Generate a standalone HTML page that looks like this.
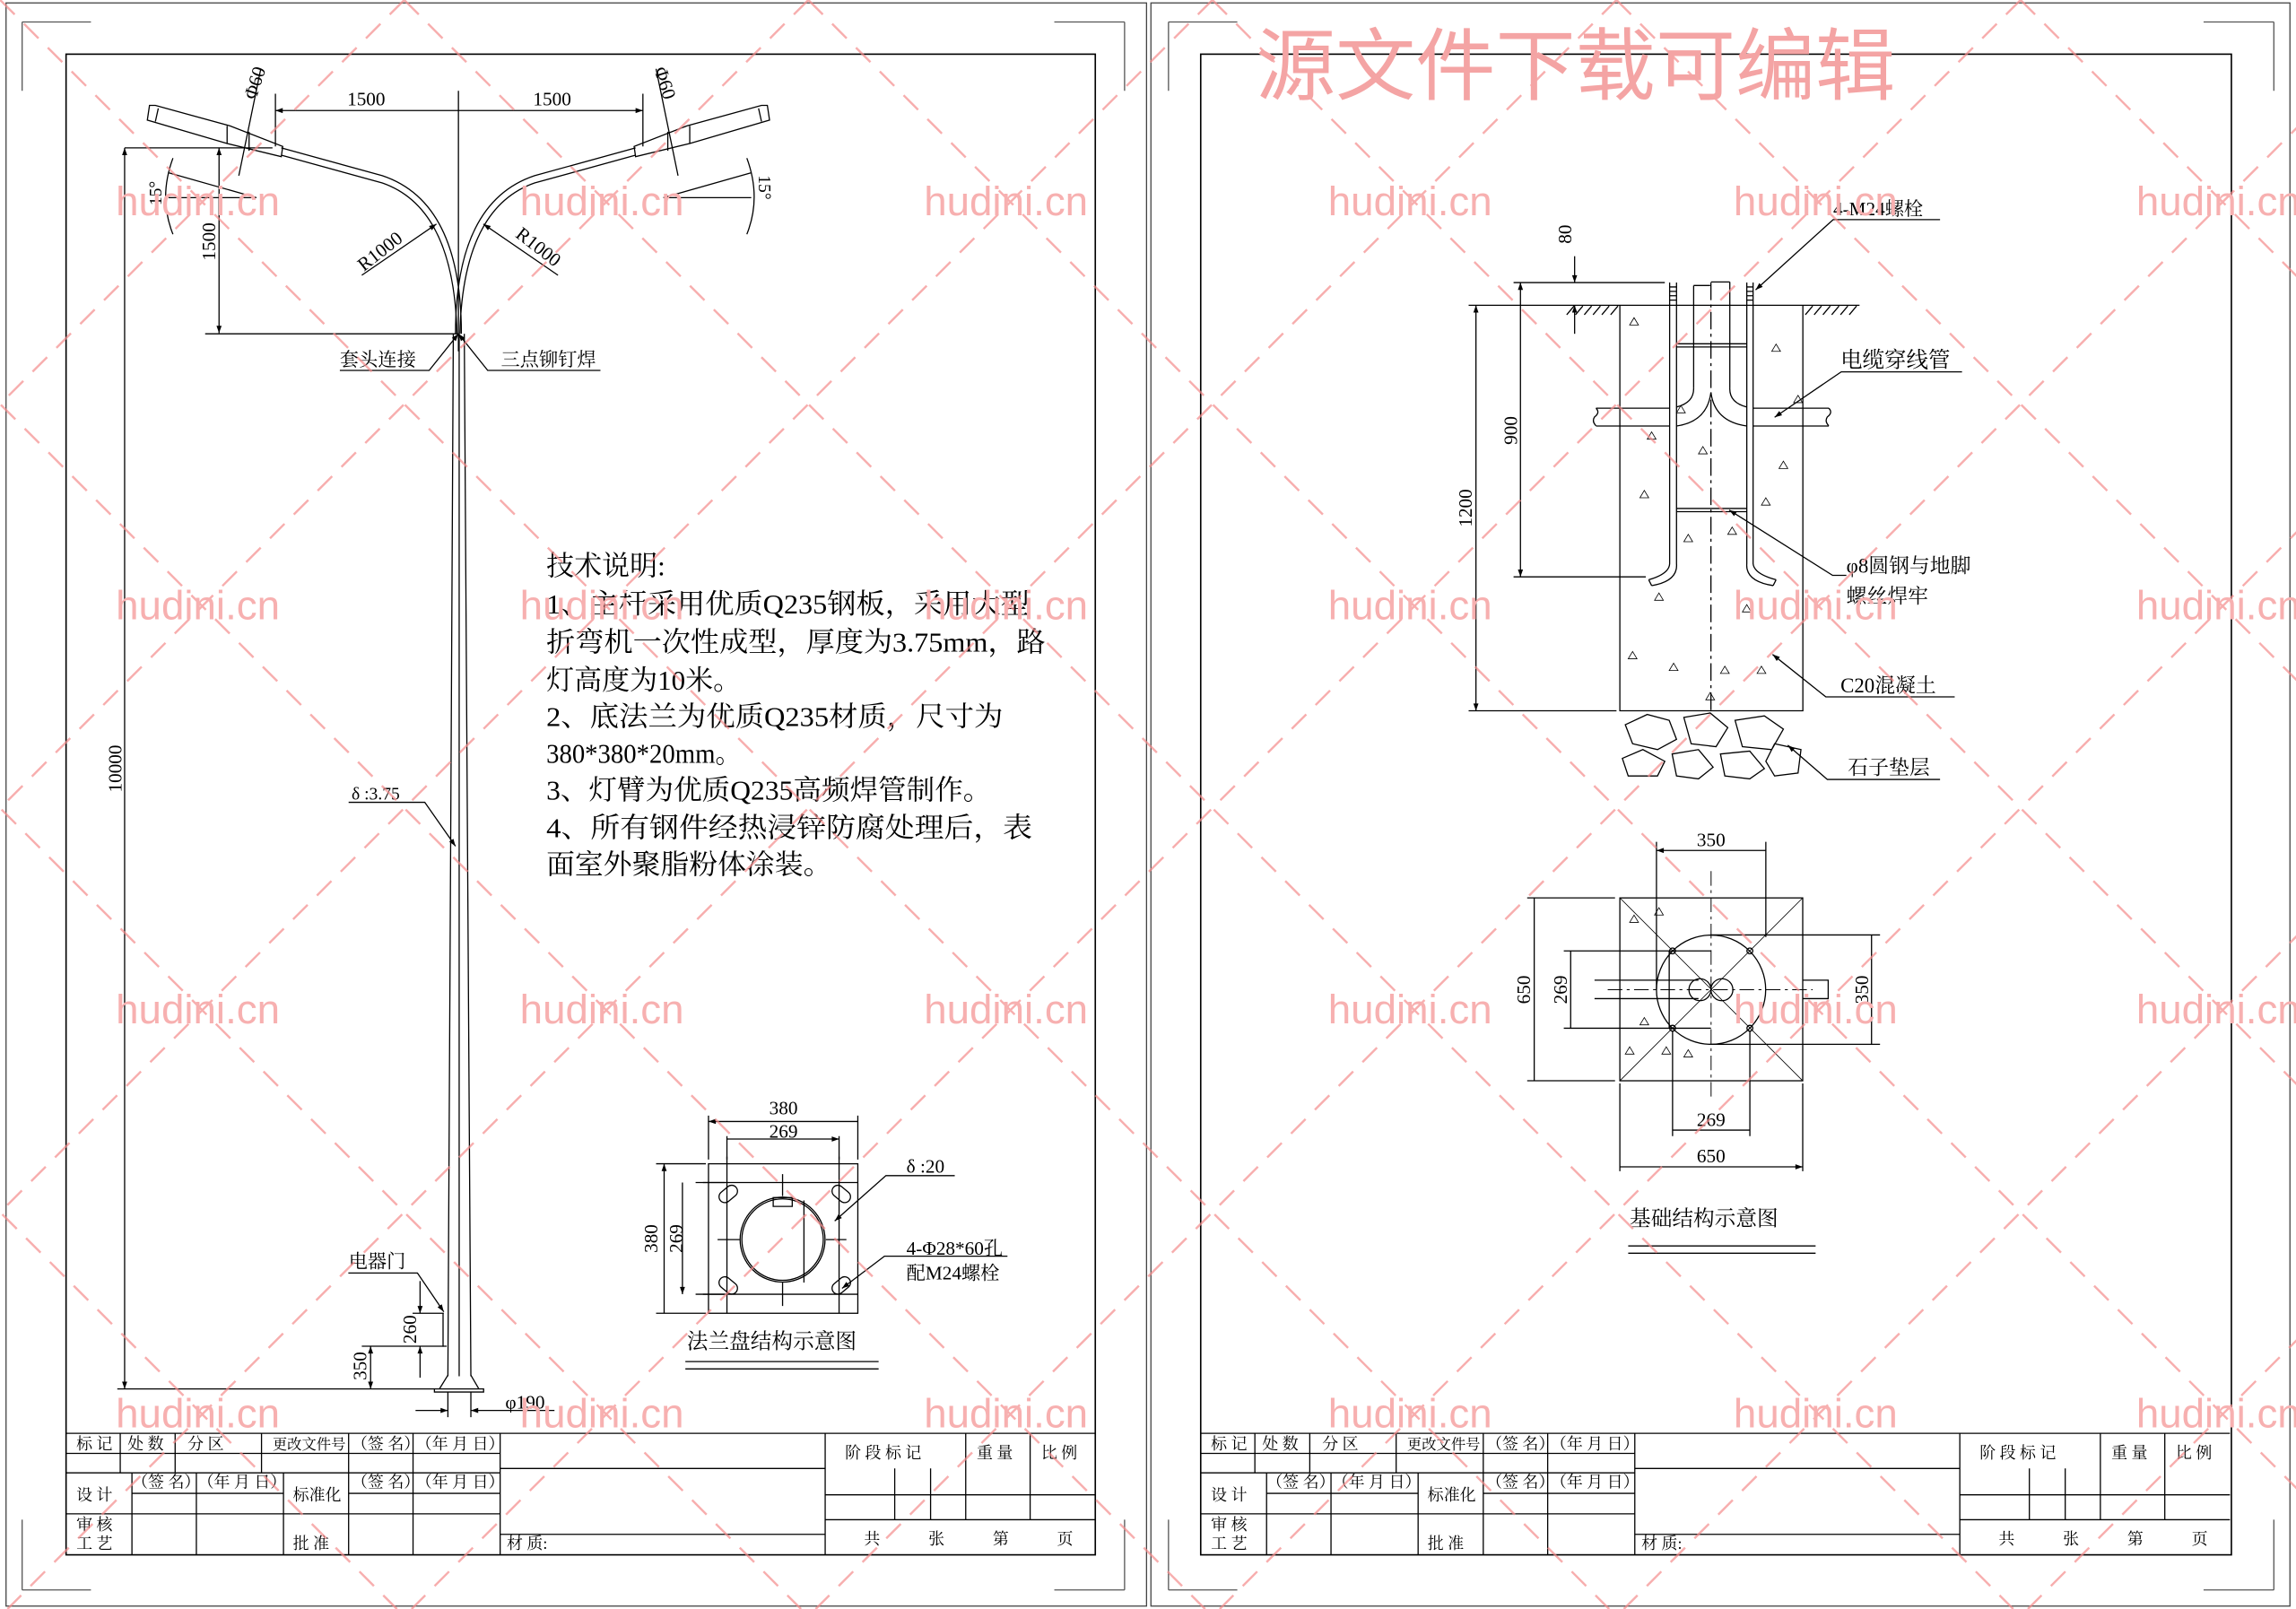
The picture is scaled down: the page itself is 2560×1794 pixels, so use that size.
<!DOCTYPE html>
<html><head><meta charset="utf-8"><style>
html,body{margin:0;padding:0;background:#fff;}
svg{display:block;}
text{font-family:"Liberation Serif","Noto Serif CJK SC","Noto Sans CJK SC",serif;fill:#000;}
.t{font-size:11px;}
.wm text{font-family:"Liberation Sans",sans-serif;font-size:28px;fill:#f7b0b0;}
</style></head><body>
<svg width="2560" height="1794" viewBox="0 0 1568 1099" xmlns="http://www.w3.org/2000/svg">
<defs>
<marker id="a" viewBox="0 0 10 10" refX="10" refY="5" markerWidth="7" markerHeight="5" orient="auto-start-reverse" markerUnits="userSpaceOnUse"><path d="M0,1.5 L10,5 L0,8.5z" fill="#000"/></marker>
</defs>
<rect width="1568" height="1099" fill="#fff"/>
<g fill="none" stroke="#000" stroke-width="0.8">
<rect x="4" y="2" width="779" height="1095" stroke="#444"/>
<rect x="786" y="2" width="778" height="1095" stroke="#444"/>
<path d="M15,15 H62 M15,15 V62 M768,15 H720 M768,15 V62 M15,1086 V1038 M15,1086 H62 M768,1086 V1038 M768,1086 H720" stroke="#555"/>
<path d="M798,15 H845 M798,15 V62 M1553,15 H1505 M1553,15 V62 M798,1086 V1038 M798,1086 H845 M1553,1086 V1038 M1553,1086 H1505" stroke="#555"/>
<rect x="45" y="37" width="703" height="1025" stroke-width="1"/>
<rect x="820" y="37" width="704" height="1025" stroke-width="1"/>
</g>

<g id="tb" fill="none" stroke="#000" stroke-width="0.8">
<path d="M45,979 H748 M45,992.7 H341.5 M341.5,1003 H563.5 M45,1006 H341.5 M90,1020 H193.5 M238,1020 H341.5 M563.5,1021 H748 M45,1034 H341.5 M563.5,1038 H748 M341.5,1048 H563.5"/>
<path d="M82,979 V1006 M119.5,979 V1006 M178.5,979 V1006 M238,979 V1062 M282,979 V1062 M341.5,979 V1062 M563.5,979 V1062 M90,1006 V1062 M134,1006 V1062 M193.5,1006 V1062 M659.5,979 V1038 M703.5,979 V1038 M611,1003 V1038 M635.5,1003 V1038"/>
</g>
<use href="#tb" x="775"/>
<g class="t" id="tbt">
<text x="52" y="990">标 记</text><text x="87" y="990">处 数</text><text x="128" y="990">分 区</text><text x="186" y="990" font-size="10">更改文件号</text><text x="240" y="990">（签 名）</text><text x="284" y="990">（年 月 日）</text>
<text x="52" y="1025">设 计</text><text x="90" y="1016">（签 名）</text><text x="135" y="1016">（年 月 日）</text><text x="200" y="1025">标准化</text><text x="240" y="1016">（签 名）</text><text x="284" y="1016">（年 月 日）</text>
<text x="52" y="1045">审 核</text><text x="52" y="1058">工 艺</text><text x="200" y="1058">批 准</text><text x="346" y="1058">材 质:</text>
<text x="577" y="996">阶 段 标 记</text><text x="667" y="996">重 量</text><text x="711" y="996">比 例</text>
<text x="590" y="1055">共　　　张　　　第　　　页</text>
</g>
<use href="#tbt" x="775"/>

<g fill="none" stroke="#000" stroke-width="0.8">
<path d="M309.5,228 L305.8,940 M317,228 L321.5,940 M313.5,228 V940"/>
<path d="M296.6,948.7 H330.2 V950.8 H296.6Z M305.8,939.3 L300,948.7 M321.5,939.3 L327,948.7"/>
<path d="M302.5,897 V919.5 H305"/>
<path d="M192,106 L261,125 Q310,142 312,228"/>
<path d="M192,101 L261,120 Q315,138 315,228"/>
<path d="M434,106 L365,125 Q316,142 314,228"/>
<path d="M434,101 L365,120 Q311,138 311,228"/>
<path d="M102,72 L100.5,82 L155,98 L192,107 L193,100 L157,86 L106,72Z M108,74 L106,83 M155,86 L155,98 M170,90 L170,103"/>
<path d="M524,72 L525.5,82 L471,98 L434,107 L433,100 L469,86 L520,72Z M518,74 L520,83 M471,86 L471,98 M456,90 L456,103"/>
<path d="M313,62 V240 M188,64 V100 M439,64 V100"/>
<path d="M188,75.5 H313 M313,75.5 H439" marker-start="url(#a)" marker-end="url(#a)"/>
<path d="M85,101 H186 M140,228 H313"/>
<path d="M149.5,101 V227.5" marker-start="url(#a)" marker-end="url(#a)"/>
<path d="M85,101 V948.7" marker-start="url(#a)" marker-end="url(#a)"/>
<path d="M80,948.7 H297"/>
<path d="M178,47 L163,120 M448,47 L463,120"/>
<path d="M115,135 H175 M115,118 L175,135 M118,108 Q108,135 118,160"/>
<path d="M453,135 H513 M513,118 L453,135 M510,108 Q520,135 510,160"/>
<path d="M247,188 L298,153" marker-end="url(#a)"/>
<path d="M381,188 L330,153" marker-end="url(#a)"/>
<path d="M232,253 H293 L313,228" marker-end="url(#a)"/>
<path d="M410,253 H333 L313,228" marker-end="url(#a)"/>
<path d="M238,548 H290 L311,578" marker-end="url(#a)"/>
<path d="M237.8,869.5 H285 L303,896" marker-end="url(#a)"/>
<path d="M281.7,897 H303 M247,919.5 H303"/>
<path d="M286.8,875 V897" marker-end="url(#a)"/><path d="M286.8,941 V919.5" marker-end="url(#a)"/>
<path d="M253,919.5 V948.7" marker-start="url(#a)" marker-end="url(#a)"/>
<path d="M305.8,951 V968 M321.5,951 V968"/>
<path d="M283.7,963.4 H305.8" marker-end="url(#a)"/><path d="M378.6,963.4 H321.5" marker-end="url(#a)"/>
</g>
<g font-size="13">
<text x="250" y="72" text-anchor="middle">1500</text><text x="377" y="72" text-anchor="middle">1500</text>
<text transform="translate(147,165) rotate(-90)" text-anchor="middle">1500</text>
<text transform="translate(83,525) rotate(-90)" text-anchor="middle">10000</text>
<text transform="translate(178,58) rotate(-72)" text-anchor="middle">Φ60</text>
<text transform="translate(450,58) rotate(72)" text-anchor="middle">Φ60</text>
<text transform="translate(110,132) rotate(-90)" text-anchor="middle" font-size="12">15°</text>
<text transform="translate(518,128) rotate(90)" text-anchor="middle" font-size="12">15°</text>
<text transform="translate(262,175) rotate(-38)" text-anchor="middle">R1000</text>
<text transform="translate(365,172) rotate(38)" text-anchor="middle">R1000</text>
<text x="232" y="250">套头连接</text><text x="342" y="250">三点铆钉焊</text>
<text x="240" y="546" font-size="12">δ :3.75</text>
<text x="238" y="866">电器门</text>
<text transform="translate(284,908) rotate(-90)" text-anchor="middle">260</text>
<text transform="translate(250,933) rotate(-90)" text-anchor="middle">350</text>
<text x="345" y="962">φ190</text>
</g>
<g font-size="19">
<text x="373" y="393">技术说明:</text>
<text x="373" y="419" textLength="330" lengthAdjust="spacingAndGlyphs">1、主杆采用优质Q235钢板，采用大型</text>
<text x="373" y="445" textLength="341" lengthAdjust="spacingAndGlyphs">折弯机一次性成型，厚度为3.75mm，路</text>
<text x="373" y="471" textLength="133" lengthAdjust="spacingAndGlyphs">灯高度为10米。</text>
<text x="373" y="496" textLength="312" lengthAdjust="spacingAndGlyphs">2、底法兰为优质Q235材质，尺寸为</text>
<text x="373" y="521" textLength="133" lengthAdjust="spacingAndGlyphs">380*380*20mm。</text>
<text x="373" y="546" textLength="304" lengthAdjust="spacingAndGlyphs">3、灯臂为优质Q235高频焊管制作。</text>
<text x="373" y="572" textLength="332" lengthAdjust="spacingAndGlyphs">4、所有钢件经热浸锌防腐处理后，表</text>
<text x="373" y="597" textLength="195" lengthAdjust="spacingAndGlyphs">面室外聚脂粉体涂装。</text>
</g>

<g fill="none" stroke="#000" stroke-width="0.8">
<rect x="483.8" y="794.9" width="102" height="102.1"/>
<path d="M496.4,790 V897 M573,790 V897 M480,807.7 H586 M480,884 H586"/>
<path d="M483.8,762 V792 M585.8,762 V792 M496.4,776 V792 M573,776 V792"/>
<path d="M483.8,766 H585.8 M496.4,778 H573" marker-start="url(#a)" marker-end="url(#a)"/>
<path d="M448,794.9 H482 M475,807.7 H495 M448,897 H482 M475,884 H495"/>
<path d="M453.5,794.9 V897 M466,807.7 V884" marker-start="url(#a)" marker-end="url(#a)"/>
<circle cx="534.4" cy="846.7" r="29"/><circle cx="534.4" cy="846.7" r="27.8"/>
<path d="M534.4,802 V817 M534.4,876 V892 M490,846.7 H505 M564,846.7 H578 M549,820 V876 M528,818 h13 v6 h-13z"/>
<g transform="translate(497.3,815.5) rotate(-40)"><rect x="-7" y="-4" width="14" height="8" rx="4"/></g>
<g transform="translate(574.5,815.5) rotate(40)"><rect x="-7" y="-4" width="14" height="8" rx="4"/></g>
<g transform="translate(497.3,878) rotate(40)"><rect x="-7" y="-4" width="14" height="8" rx="4"/></g>
<g transform="translate(574.5,878) rotate(-40)"><rect x="-7" y="-4" width="14" height="8" rx="4"/></g>
<path d="M652,803 H605 L570,834" marker-end="url(#a)"/>
<path d="M688,858 H604 L575,880" marker-end="url(#a)"/>
<path d="M468,930 H600 M468,935 H600"/>
</g>
<g font-size="13">
<text x="535" y="761" text-anchor="middle">380</text><text x="535" y="777" text-anchor="middle">269</text>
<text transform="translate(449,846) rotate(-90)" text-anchor="middle">380</text>
<text transform="translate(466,846) rotate(-90)" text-anchor="middle">269</text>
<text x="619" y="801">δ :20</text>
<text x="619" y="857">4-Φ28*60孔</text><text x="619" y="874">配M24螺栓</text>
<text x="469" y="921" font-size="14.5">法兰盘结构示意图</text>
</g>

<g fill="none" stroke="#000" stroke-width="0.8">
<path d="M1003,208.5 H1270"/>
<path d="M1070,215 l5,-6 M1076,215 l5,-6 M1082,215 l5,-6 M1088,215 l5,-6 M1094,215 l5,-6 M1100,215 l5,-6 M1233,215 l5,-6 M1239,215 l5,-6 M1245,215 l5,-6 M1251,215 l5,-6 M1257,215 l5,-6 M1263,215 l5,-6"/>
<path d="M1106.3,208.5 V485.5 H1231.3 V208.5"/>
<path d="M1003,485.5 H1104"/>
<path d="M1140.3,193 V385 Q1140,392 1126,396 M1145,193 V385 Q1146,397 1128,400 M1126,396 L1128,400"/>
<path d="M1197.3,193 V385 Q1198,392 1213,396 M1193,193 V385 Q1192,397 1211,400 M1213,396 L1211,400"/>
<path d="M1140.3,196 h4.7 M1140.3,199 h4.7 M1140.3,202 h4.7 M1140.3,205 h4.7 M1193,196 h4.3 M1193,199 h4.3 M1193,202 h4.3 M1193,205 h4.3"/>
<path d="M1145,234.8 H1193 M1145,237 H1193 M1145,347.3 H1193 M1145,349.5 H1193"/>
<path d="M1168.5,192.6 H1181.4 M1181.4,192.6 V265 M1156.7,195 H1168 M1156.7,195 V265"/>
<path d="M1168.5,193 V485" stroke-dasharray="12,3,2,3"/>
<path d="M1156.7,265 Q1157,275 1145,278 M1181.4,265 Q1181,275 1193,278 M1168.5,268 Q1166,288 1145,291 M1168.5,268 Q1171,288 1193,291"/>
<path d="M1090,278.8 H1140.3 M1090,291 H1140.3 M1197.3,278.8 H1249 M1197.3,291 H1249"/>
<path d="M1090,278.8 q3,3 -1,6 q-2,3 1,6 M1249,278.8 q3,3 -1,6 q-2,3 1,6"/>
<path d="M1110,495 L1125,488 L1140,492 L1145,505 L1132,512 L1115,508Z M1150,490 L1168,487 L1180,497 L1172,510 L1155,508Z M1185,492 L1205,489 L1218,498 L1210,512 L1190,510Z M1108,518 L1122,512 L1137,520 L1132,530 L1112,530Z M1142,515 L1160,512 L1170,524 L1160,532 L1145,530Z M1175,515 L1195,513 L1205,525 L1195,532 L1178,530Z M1212,508 L1230,512 L1228,528 L1212,530 L1206,520Z"/>
<path d="M1033.7,193 H1137 M1033.7,394 H1124"/>
<path d="M1038.4,193 V394" marker-start="url(#a)" marker-end="url(#a)"/>
<path d="M1008,208.5 V485.5" marker-start="url(#a)" marker-end="url(#a)"/>
<path d="M1075.4,175 V193" marker-end="url(#a)"/><path d="M1075.4,228 V208.5" marker-end="url(#a)"/>
<path d="M1325,150 H1252 L1199,198" marker-end="url(#a)"/>
<path d="M1340,254 H1257.5 L1212,285" marker-end="url(#a)"/>
<path d="M1261,393 H1251.6 L1181,348.4" marker-end="url(#a)"/>
<path d="M1335,476 H1247 L1210.6,447" marker-end="url(#a)"/>
<path d="M1325,532.4 H1248 L1221,509" marker-end="url(#a)"/>
</g>
<g fill="none" stroke="#000" stroke-width="0.5">
<path d="M1113,222 l3,-5 l3,5z M1210,240 l3,-5 l3,5z M1125,300 l3,-5 l3,5z M1215,320 l3,-5 l3,5z M1160,310 l3,-5 l3,5z M1120,340 l3,-5 l3,5z M1203,345 l3,-5 l3,5z M1150,370 l3,-5 l3,5z M1180,365 l3,-5 l3,5z M1130,410 l3,-5 l3,5z M1190,418 l3,-5 l3,5z M1112,450 l3,-5 l3,5z M1140,458 l3,-5 l3,5z M1175,460 l3,-5 l3,5z M1200,460 l3,-5 l3,5z M1165,478 l3,-5 l3,5z M1225,275 l3,-5 l3,5z M1145,282 l3,-5 l3,5z"/>
<path d="M1113,630 l3,-5 l3,5z M1120,700 l3,-5 l3,5z M1130,625 l3,-5 l3,5z M1135,720 l3,-5 l3,5z M1150,722 l3,-5 l3,5z M1110,720 l3,-5 l3,5z"/>
</g>
<g font-size="13">
<text transform="translate(1073,160) rotate(-90)" text-anchor="middle">80</text>
<text transform="translate(1036,294) rotate(-90)" text-anchor="middle">900</text>
<text transform="translate(1005,347) rotate(-90)" text-anchor="middle">1200</text>
<text x="1252" y="147">4-M24螺栓</text>
<text x="1257" y="251" font-size="15">电缆穿线管</text>
<text x="1261" y="391" font-size="14">φ8圆钢与地脚</text>
<text x="1261" y="412" font-size="14">螺丝焊牢</text>
<text x="1257" y="473" font-size="14">C20混凝土</text>
<text x="1262" y="529" font-size="14">石子垫层</text>
</g>

<g fill="none" stroke="#000" stroke-width="0.8">
<rect x="1106.3" y="613.3" width="124.9" height="124.9"/>
<path d="M1106.3,613.3 L1231.2,738.2 M1231.2,613.3 L1106.3,738.2" stroke-width="0.5"/>
<circle cx="1168.6" cy="676" r="37.3"/>
<path d="M1089,669.5 H1160 M1089,682.1 H1160 M1231.2,669.5 H1248.6 V682.1 H1231.2"/>
<path d="M1140,649.5 V702.3 M1140,649.5 H1168.5 M1140,702.3 H1168.5"/>
<circle cx="1161" cy="676" r="7.5"/><circle cx="1176" cy="676" r="7.5"/>
<circle cx="1142.3" cy="649.5" r="2"/><circle cx="1195.1" cy="649.5" r="2"/><circle cx="1142.3" cy="702.3" r="2"/><circle cx="1195.1" cy="702.3" r="2"/>
<path d="M1168.6,595 V750 M1098,676 H1238" stroke-dasharray="10,3,2,3" stroke-width="0.6"/>
<path d="M1131.3,575 V676 M1206,575 V640 M1106.3,740 V800 M1231.2,740 V800 M1142.3,704 V776 M1195.1,704 V776"/>
<path d="M1043,613.3 H1103 M1043,738.2 H1103 M1068,649.5 H1140 M1068,702.3 H1140 M1168,638.6 H1284 M1168,713.3 H1284"/>
<path d="M1131.3,580.9 H1206 M1047.8,613.3 V738.2 M1072.7,649.5 V702.3 M1278.2,638.6 V713.3 M1142.3,771.9 H1195.1 M1106.3,797 H1231.2" marker-start="url(#a)" marker-end="url(#a)"/>
<path d="M1112,851 H1240 M1112,856 H1240"/>
</g>
<g font-size="13">
<text x="1168.6" y="578" text-anchor="middle">350</text>
<text transform="translate(1045,676) rotate(-90)" text-anchor="middle">650</text>
<text transform="translate(1070,676) rotate(-90)" text-anchor="middle">269</text>
<text transform="translate(1276,676) rotate(-90)" text-anchor="middle">350</text>
<text x="1168.6" y="769" text-anchor="middle">269</text>
<text x="1168.6" y="794" text-anchor="middle">650</text>
<text x="1113" y="837" font-size="14.5">基础结构示意图</text>
</g>

<g stroke="#f58c8c" stroke-width="1.5" stroke-dasharray="14,9" opacity="0.7" fill="none">
<path d="M276,0 L-823,1099 M552,0 L-547,1099 M828,0 L-271,1099 M1104,0 L5,1099 M1380,0 L281,1099 M1656,0 L557,1099 M1932,0 L833,1099 M2208,0 L1109,1099 M2484,0 L1385,1099 M2760,0 L1661,1099"/>
<path d="M-828,0 L271,1099 M-552,0 L547,1099 M-276,0 L823,1099 M0,0 L1099,1099 M276,0 L1375,1099 M552,0 L1651,1099 M828,0 L1927,1099 M1104,0 L2203,1099 M1380,0 L2479,1099"/>
</g>
<g class="wm" text-anchor="middle">
<text x="135" y="147">hudini.cn</text><text x="411" y="147">hudini.cn</text><text x="687" y="147">hudini.cn</text><text x="963" y="147">hudini.cn</text><text x="1240" y="147">hudini.cn</text><text x="1515" y="147">hudini.cn</text>
<text x="135" y="423">hudini.cn</text><text x="411" y="423">hudini.cn</text><text x="687" y="423">hudini.cn</text><text x="963" y="423">hudini.cn</text><text x="1240" y="423">hudini.cn</text><text x="1515" y="423">hudini.cn</text>
<text x="135" y="699">hudini.cn</text><text x="411" y="699">hudini.cn</text><text x="687" y="699">hudini.cn</text><text x="963" y="699">hudini.cn</text><text x="1240" y="699">hudini.cn</text><text x="1515" y="699">hudini.cn</text>
<text x="135" y="975">hudini.cn</text><text x="411" y="975">hudini.cn</text><text x="687" y="975">hudini.cn</text><text x="963" y="975">hudini.cn</text><text x="1240" y="975">hudini.cn</text><text x="1515" y="975">hudini.cn</text>
</g>
<text x="1076" y="64" text-anchor="middle" font-size="54" style="fill:#f4a4a4;font-family:'Noto Sans CJK SC',sans-serif" textLength="437" lengthAdjust="spacingAndGlyphs">源文件下载可编辑</text>
</svg>
</body></html>
